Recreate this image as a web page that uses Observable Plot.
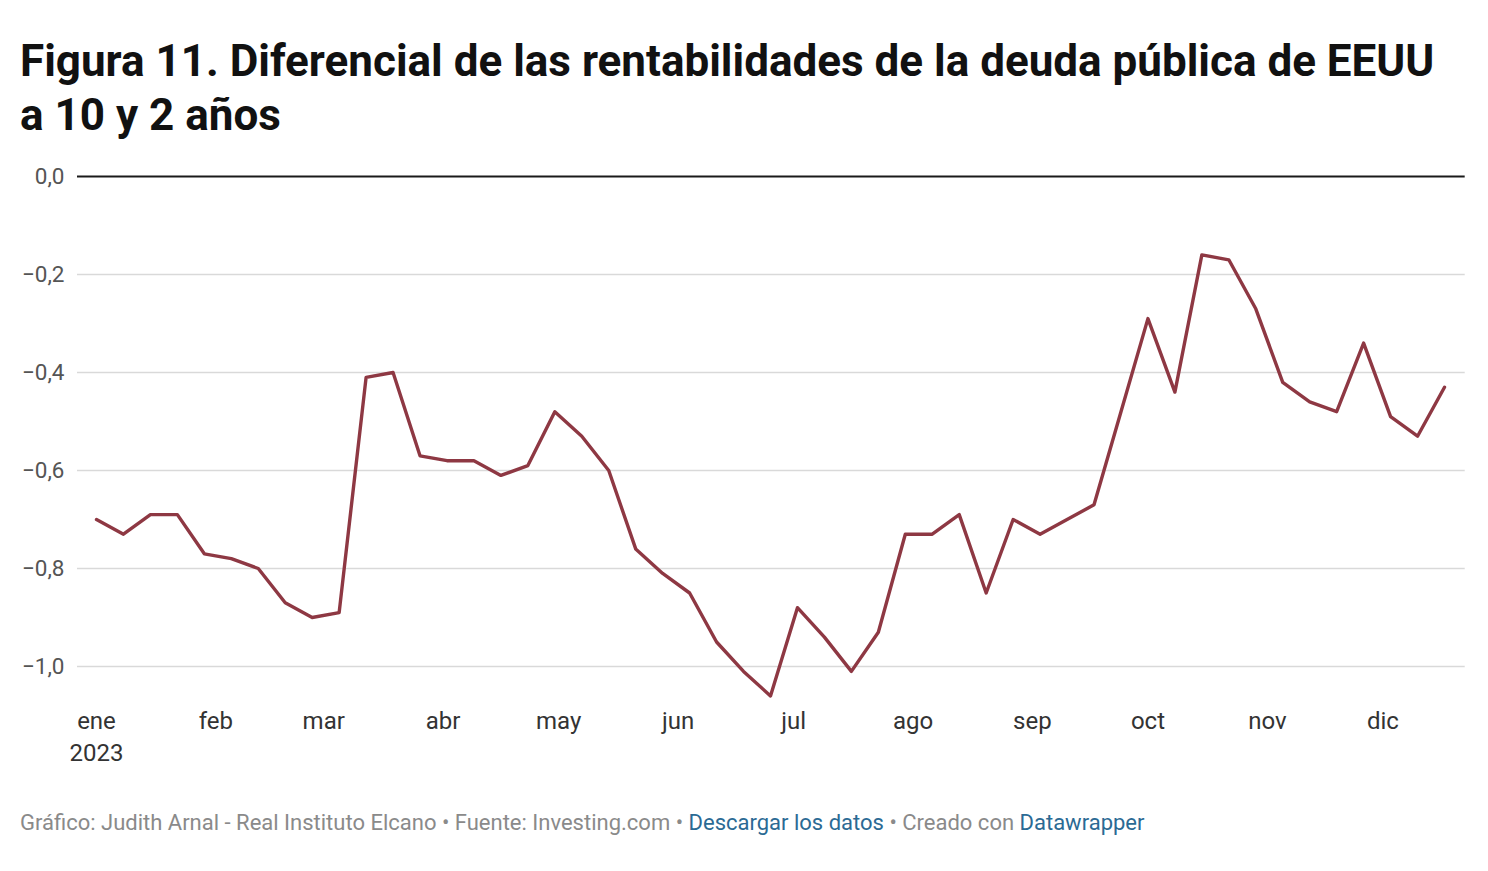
<!DOCTYPE html>
<html><head><meta charset="utf-8">
<script src="https://cdn.jsdelivr.net/npm/d3@7"></script>
<script src="https://cdn.jsdelivr.net/npm/@observablehq/plot@0.6"></script>
<style>
body{margin:0;background:#fff;width:1488px;height:871px;position:relative;overflow:hidden;font-family:Roboto,sans-serif}
#title{position:absolute;left:20px;top:34px;font-size:44px;line-height:54px;font-weight:700;color:#111;margin:0;white-space:nowrap}
#chart{position:absolute;left:0;top:150px}
#foot{position:absolute;left:20px;top:810px;font-size:22px;line-height:26px;color:#8a8a8a;white-space:nowrap}
#foot a{color:#2b6a94;text-decoration:none}
</style></head><body>
<h1 id="title">Figura 11. Diferencial de las rentabilidades de la deuda pública de EEUU<br>a 10 y 2 años</h1>
<div id="chart"></div>
<div id="foot">Gráfico: Judith Arnal - Real Instituto Elcano • Fuente: Investing.com • <a>Descargar los datos</a> • Creado con <a>Datawrapper</a></div>
<script>
const dates = [
  "2023-01-01","2023-01-08","2023-01-15","2023-01-22","2023-01-29",
  "2023-02-05","2023-02-12","2023-02-19","2023-02-26",
  "2023-03-05","2023-03-12","2023-03-19","2023-03-26",
  "2023-04-02","2023-04-09","2023-04-16","2023-04-23","2023-04-30",
  "2023-05-07","2023-05-14","2023-05-21","2023-05-28",
  "2023-06-04","2023-06-11","2023-06-18","2023-06-25",
  "2023-07-02","2023-07-09","2023-07-16","2023-07-23","2023-07-30",
  "2023-08-06","2023-08-13","2023-08-20","2023-08-27",
  "2023-09-03","2023-09-10","2023-09-17","2023-09-24",
  "2023-10-01","2023-10-08","2023-10-15","2023-10-22","2023-10-29",
  "2023-11-05","2023-11-12","2023-11-19","2023-11-26",
  "2023-12-03","2023-12-10","2023-12-17"
];
const spread = [
  -0.70,-0.73,-0.69,-0.69,-0.77,
  -0.78,-0.80,-0.87,-0.90,
  -0.89,-0.41,-0.40,-0.57,
  -0.58,-0.58,-0.61,-0.59,-0.48,
  -0.53,-0.60,-0.76,-0.81,
  -0.85,-0.95,-1.01,-1.06,
  -0.88,-0.94,-1.01,-0.93,-0.73,
  -0.73,-0.69,-0.85,-0.70,
  -0.73,-0.70,-0.67,-0.48,
  -0.29,-0.44,-0.16,-0.17,-0.27,
  -0.42,-0.46,-0.48,-0.34,
  -0.49,-0.53,-0.43
];
const monthTicks = ["2023-01-01","2023-02-01","2023-03-01","2023-04-01","2023-05-01","2023-06-01",
                    "2023-07-01","2023-08-01","2023-09-01","2023-10-01","2023-11-01","2023-12-01"];
const monthLabels = ["ene","feb","mar","abr","may","jun","jul","ago","sep","oct","nov","dic"];
const yearLabel = "2023";
const yTicks = [0,-0.2,-0.4,-0.6,-0.8,-1.0];

const utc = s => new Date(s + "T00:00:00Z");
const data = dates.map((d, i) => ({date: utc(d), value: spread[i]}));
const months = monthTicks.map(utc);
const locale = d3.formatLocale({decimal: ",", thousands: ".", grouping: [3], currency: ["", "€"], minus: "\u2212"});
const fmt = locale.format(".1f");

const chart = Plot.plot({
  width: 1488, height: 620,
  marginLeft: 77, marginRight: 23.3, marginTop: 26, marginBottom: 64.8,
  x: {type: "utc", domain: [new Date("2022-12-27T01:36:00Z"), new Date("2023-12-22T09:00:00Z")]},
  y: {domain: [-1.08, 0]},
  style: {fontFamily: "Roboto", fontSize: "24px", background: "white", overflow: "visible"},
  marks: [
    Plot.gridY(yTicks.filter(t => t !== 0), {stroke: "#d9d9d9", strokeOpacity: 1, strokeWidth: 1.6}),
    Plot.ruleY([0], {stroke: "#1a1a1a", strokeWidth: 2}),
    Plot.axisY(yTicks, {tickSize: 0, tickPadding: 13, tickFormat: fmt, fill: "#555", fontSize: 22.5, label: null}),
    Plot.axisX(months, {tickSize: 0, tickPadding: 6.1, tickFormat: d => monthLabels[d.getUTCMonth()], fill: "#333", fontSize: 24, label: null}),
    Plot.axisX([months[0]], {tickSize: 0, tickPadding: 38.3, tickFormat: () => yearLabel, fill: "#333", fontSize: 24, label: null}),
    Plot.line(data, {x: "date", y: "value", stroke: "#8e3843", strokeWidth: 3.4, strokeLinejoin: "round", strokeLinecap: "round"})
  ]
});
document.getElementById("chart").appendChild(chart);
</script>
</body></html>
